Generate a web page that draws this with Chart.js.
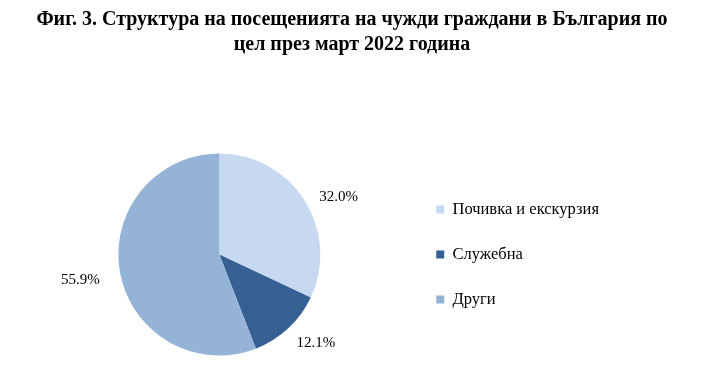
<!DOCTYPE html>
<html>
<head>
<meta charset="utf-8">
<script src="https://cdn.jsdelivr.net/npm/chart.js@4"></script>
<style>
  html, body { margin: 0; padding: 0; background: #fff; }
  #wrap { width: 704px; height: 392px; }
</style>
</head>
<body>
<div id="wrap"><canvas id="pie-chart"></canvas></div>
<script>
let labels = ["Почивка и екскурзия", "Служебна", "Други"];
let shares = [32.0, 12.1, 55.9];
let colours = ["#c6d9f1", "#376092", "#95b3d7"];
let title = ["Фиг. 3. Структура на посещенията на чужди граждани в България по", "цел през март 2022 година"];

const serif = '"Liberation Serif", "Times New Roman", serif';

// widen the legend box on its right side, so it sits further left
const legendGap = {
  id: 'legendGap',
  beforeLayout(chart) {
    const lg = chart.legend;
    if (!lg || lg._gapPatched) return;
    const fit = lg.fit;
    lg.fit = function () {
      fit.call(this);
      this.width += 64;
    };
    lg._gapPatched = true;
  }
};

// percent labels outside the slices
const outLabels = {
  id: 'outLabels',
  afterDatasetsDraw(chart) {
    const ctx = chart.ctx;
    const meta = chart.getDatasetMeta(0);
    ctx.save();
    ctx.font = '15px ' + serif;
    ctx.fillStyle = '#000';
    ctx.textAlign = 'center';
    ctx.textBaseline = 'middle';
    meta.data.forEach((arc, i) => {
      const p = arc.getProps(['x', 'y', 'startAngle', 'endAngle', 'outerRadius'], true);
      const mid = (p.startAngle + p.endAngle) / 2;
      const txt = shares[i].toFixed(1) + '%';
      const w = ctx.measureText(txt).width;
      const x = p.x + Math.cos(mid) * (p.outerRadius + 21 + w / 2);
      const y = p.y + Math.sin(mid) * (p.outerRadius + 14) + 4;
      ctx.fillText(txt, x, y);
    });
    ctx.restore();
  }
};

new Chart(document.getElementById('pie-chart'), {
  type: 'pie',
  data: {
    labels: labels,
    datasets: [{
      data: shares,
      backgroundColor: colours,
      borderWidth: 0
    }]
  },
  options: {
    responsive: true,
    maintainAspectRatio: false,
    animation: false,
    radius: 101,
    layout: { padding: { left: 31, right: 31, bottom: 10 } },
    plugins: {
      title: {
        display: true,
        text: title,
        color: '#000',
        font: { family: serif, size: 20, weight: 'bold', lineHeight: 1.25 },
        padding: { top: 7, bottom: 70 }
      },
      legend: {
        position: 'right',
        fullSize: false,
        labels: {
          boxWidth: 8,
          boxHeight: 8,
          padding: 28.5,
          color: '#000',
          font: { family: serif, size: 16.5 }
        }
      },
      tooltip: { enabled: false }
    }
  },
  plugins: [legendGap, outLabels]
});
</script>
</body>
</html>
